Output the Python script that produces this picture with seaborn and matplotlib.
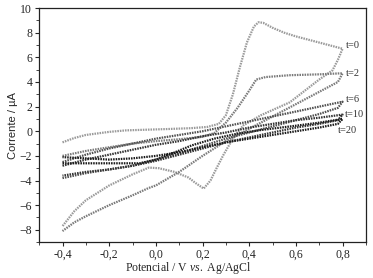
import pandas as pd
import matplotlib
matplotlib.use('Agg')
import matplotlib.pyplot as plt
import seaborn as sns
from matplotlib.ticker import MultipleLocator

# voltammograms (potential in V, current in uA)
# t=0
t0_fwd_e = [-0.4, -0.35, -0.3, -0.2, -0.13, -0.05, 0.05, 0.15, 0.22, 0.27, 0.3, 0.33, 0.36, 0.39, 0.42, 0.44, 0.46, 0.5, 0.55, 0.6, 0.7, 0.8]
t0_fwd_i = [-0.9, -0.55, -0.3, -0.05, 0.07, 0.12, 0.18, 0.25, 0.35, 0.6, 1.3, 3.0, 5.2, 7.2, 8.5, 8.85, 8.8, 8.4, 8.0, 7.7, 7.2, 6.7]
t0_rev_e = [0.8, 0.78, 0.757, 0.7, 0.574, 0.45, 0.374, 0.33, 0.29, 0.26, 0.234, 0.205, 0.17, 0.14, 0.08, 0.013, -0.03, -0.1, -0.2, -0.3, -0.35, -0.4]
t0_rev_i = [6.7, 5.8, 4.95, 4.2, 2.35, 1.3, 0.47, -0.6, -1.9, -3.0, -4.0, -4.65, -4.2, -3.76, -3.3, -3.0, -2.95, -3.5, -4.4, -5.6, -6.5, -7.7]
# t=2
t2_fwd_e = [-0.4, -0.3, -0.2, -0.1, 0.0, 0.1, 0.2, 0.25, 0.3, 0.35, 0.4, 0.43, 0.47, 0.574, 0.7, 0.79, 0.8]
t2_fwd_i = [-2.0, -1.6, -1.3, -1.0, -0.8, -0.65, -0.45, -0.15, 0.7, 1.9, 3.3, 4.2, 4.4, 4.55, 4.62, 4.7, 4.7]
t2_rev_e = [0.8, 0.78, 0.7, 0.6, 0.5, 0.4, 0.3, 0.2, 0.1, 0.0, -0.03, -0.1, -0.2, -0.3, -0.35, -0.4]
t2_rev_i = [4.7, 4.0, 3.2, 2.2, 1.2, 0.2, -0.8, -2.0, -3.3, -4.4, -4.6, -5.2, -6.0, -6.9, -7.4, -8.1]
# t=6
t6_fwd_e = [-0.4, -0.3, -0.2, -0.1, 0.0, 0.1, 0.2, 0.3, 0.4, 0.5, 0.6, 0.7, 0.8]
t6_fwd_i = [-2.5, -1.9, -1.4, -1.0, -0.6, -0.3, 0.0, 0.4, 0.8, 1.2, 1.6, 2.0, 2.4]
t6_rev_e = [0.8, 0.78, 0.7, 0.6, 0.5, 0.4, 0.3, 0.2, 0.1, 0.0, -0.1, -0.2, -0.3, -0.4]
t6_rev_i = [2.4, 1.9, 1.4, 0.9, 0.4, -0.1, -0.6, -1.2, -1.8, -2.3, -2.8, -3.1, -3.4, -3.8]
# t=10
t10_fwd_e = [-0.4, -0.3, -0.2, -0.1, 0.0, 0.1, 0.2, 0.3, 0.4, 0.5, 0.6, 0.7, 0.8]
t10_fwd_i = [-2.8, -2.3, -1.9, -1.5, -1.1, -0.8, -0.4, -0.1, 0.3, 0.6, 0.9, 1.1, 1.35]
t10_rev_e = [0.8, 0.78, 0.7, 0.6, 0.5, 0.4, 0.3, 0.2, 0.1, 0.0, -0.1, -0.2, -0.3, -0.4]
t10_rev_i = [1.35, 0.9, 0.6, 0.3, -0.1, -0.5, -0.9, -1.4, -1.9, -2.4, -2.8, -3.1, -3.3, -3.6]
# t=20
t20_fwd_e = [-0.4, -0.3, -0.2, -0.07, 0.0, 0.07, 0.153, 0.25, 0.353, 0.45, 0.6, 0.7, 0.8]
t20_fwd_i = [-2.6, -2.6, -2.6, -2.6, -2.3, -1.8, -1.15, -0.6, -0.18, 0.1, 0.45, 0.7, 1.0]
t20_rev_e = [0.8, 0.78, 0.7, 0.6, 0.5, 0.4, 0.3, 0.2, 0.1, 0.0, -0.1, -0.2, -0.3, -0.4]
t20_rev_i = [1.0, 0.6, 0.3, 0.0, -0.3, -0.6, -0.9, -1.3, -1.7, -2.0, -2.2, -2.3, -2.2, -2.1]

curve_names = ['t=0', 't=2', 't=6', 't=10', 't=20']
curve_colors = ['#9a9a9a', '#7a7a7a', '#505050', '#333333', '#1a1a1a']
x_ticks = [-0.4, -0.2, 0.0, 0.2, 0.4, 0.6, 0.8]
x_tick_labels = ['-0,4', '-0,2', '0,0', '0,2', '0,4', '0,6', '0,8']
y_ticks = [-8, -6, -4, -2, 0, 2, 4, 6, 8, 10]

branches = [(t0_fwd_e + t0_rev_e, t0_fwd_i + t0_rev_i),
            (t2_fwd_e + t2_rev_e, t2_fwd_i + t2_rev_i),
            (t6_fwd_e + t6_rev_e, t6_fwd_i + t6_rev_i),
            (t10_fwd_e + t10_rev_e, t10_fwd_i + t10_rev_i),
            (t20_fwd_e + t20_rev_e, t20_fwd_i + t20_rev_i)]

frames = []
for name, (e, i) in zip(curve_names, branches):
    frames.append(pd.DataFrame({'E': e, 'I': i, 'curve': name}))
cv = pd.concat(frames, ignore_index=True)

sns.set_style('ticks')
plt.rcParams['font.family'] = ['Liberation Serif', 'DejaVu Serif']
plt.rcParams['mathtext.fontset'] = 'custom'
plt.rcParams['mathtext.rm'] = 'Liberation Serif'
plt.rcParams['mathtext.it'] = 'Liberation Serif:italic'

fig = plt.figure(figsize=(3.73, 2.78), dpi=100)
ax = fig.add_axes([0.105, 0.129, 0.876, 0.842])

sns.lineplot(data=cv, x='E', y='I', hue='curve', palette=dict(zip(curve_names, curve_colors)),
             sort=False, estimator=None, legend=False, ax=ax,
             linewidth=1.6, linestyle=(0, (0.7, 0.45)))

# curve labels at the right end
label_y = [7.0, 4.65, 2.6, 1.35, 0.05]
label_x = [0.815, 0.815, 0.815, 0.808, 0.78]
for name, lx, ly in zip(curve_names, label_x, label_y):
    ax.text(lx, ly, name, fontsize=7.5, va='center', ha='left', color='#333333')

ax.set_xlim(-0.5, 0.9)
ax.set_ylim(-9, 10)
ax.set_xticks(x_ticks)
ax.set_xticklabels(x_tick_labels)
ax.set_yticks(y_ticks)
ax.xaxis.set_minor_locator(MultipleLocator(0.1))
ax.yaxis.set_minor_locator(MultipleLocator(1))
ax.tick_params(which='major', direction='out', length=3, width=0.8, labelsize=8.5, pad=2)
ax.tick_params(which='minor', direction='out', length=2, width=0.6)
ax.tick_params(top=False, right=False, which='both')
for s in ax.spines.values():
    s.set_linewidth(0.9)
    s.set_color('#222222')

ax.set_xlabel('Potencial / V $\\mathit{vs.}$ Ag/AgCl', fontsize=8.5, labelpad=2)
ax.xaxis.set_label_coords(0.455, -0.075)
ax.set_ylabel('Corrente / \u00b5A', fontsize=8, labelpad=1, family=['Liberation Sans', 'DejaVu Sans'])

fig.savefig('out.png', dpi=100)
